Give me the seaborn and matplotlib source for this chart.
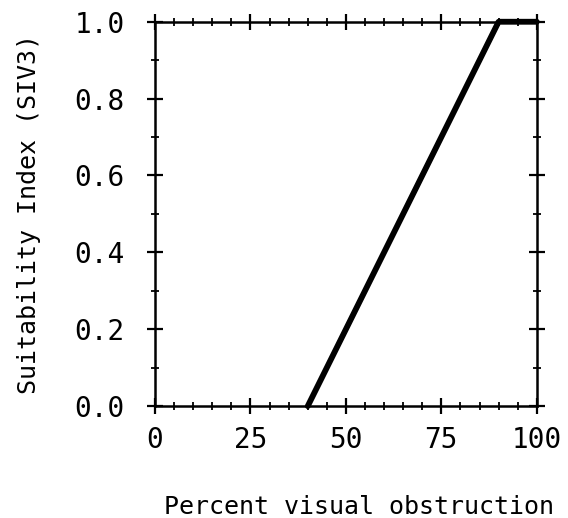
import matplotlib
matplotlib.use("Agg")
import matplotlib.pyplot as plt
import seaborn as sns
from matplotlib.ticker import MultipleLocator

# data
obstruction = [40, 90, 100]
suitability = [0.0, 1.0, 1.0]
x_ticks = [0, 25, 50, 75, 100]
y_ticks = [0.0, 0.2, 0.4, 0.6, 0.8, 1.0]

sns.set_theme(style="ticks")
plt.rcParams["font.family"] = ["DejaVu Sans Mono"]
plt.rcParams["text.color"] = "black"
plt.rcParams["axes.labelcolor"] = "black"

fig = plt.figure(figsize=(5.68, 5.18), dpi=100)
ax = fig.add_axes([0.273, 0.216, 0.672, 0.742])

sns.lineplot(x=obstruction, y=suitability, sort=False, color="black",
             linewidth=4.2, ax=ax, clip_on=False)

ax.set_xlim(0, 100)
ax.set_ylim(0, 1)
ax.set_xticks(x_ticks)
ax.set_yticks(y_ticks)
ax.set_yticklabels([f"{v:.1f}" for v in y_ticks])
ax.xaxis.set_minor_locator(MultipleLocator(5))
ax.yaxis.set_minor_locator(MultipleLocator(0.1))

for s in ax.spines.values():
    s.set_linewidth(1.8)
    s.set_color("black")

ax.tick_params(which="major", direction="inout", length=12, width=1.6,
               top=True, right=True, labelsize=20, colors="black", pad=8)
ax.tick_params(which="minor", direction="inout", length=6, width=1.3,
               top=True, right=True, colors="black")
ax.tick_params(axis="y", which="major", pad=16)

ax.set_xlabel("Percent visual obstruction", fontsize=18, labelpad=30)
ax.xaxis.label.set_x(0.535)
ax.set_ylabel("Suitability Index (SIV3)", fontsize=18, labelpad=24)

fig.savefig("out.png", dpi=100)
